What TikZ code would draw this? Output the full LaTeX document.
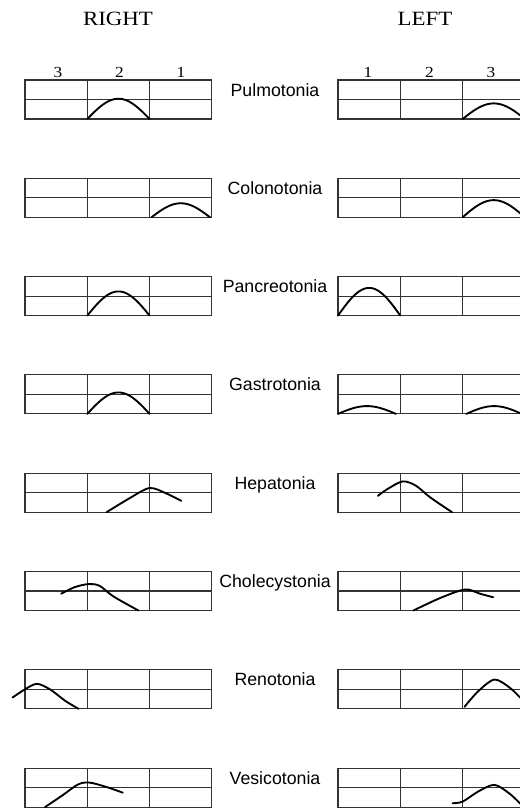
\documentclass[tikz,border=0pt]{standalone}
\usepackage{fontspec}
\newfontfamily\organfont{Liberation Sans}
\newfontfamily\headfont[FakeStretch=1.13]{Liberation Serif}

% one 3x2 panel, in cell units
\newcommand{\tonegrid}{\draw[grid] (0,0) rectangle (3,1) (1,0) -- (1,1) (2,0) -- (2,1) (0,0.5) -- (3,0.5);}
\newcommand{\bump}[3]{\draw[wave, domain=#1:#2, samples=40] plot (\x,{#3*sin(180*(\x-#1)/(#2-#1))});}

\begin{document}
\begin{tikzpicture}[
    x=0.75pt, y=-0.75pt,
    panel/.style={x=46.725pt, y=29.25pt},
    rpanel/.style={shift={(25,119+98.3*#1)}, panel},
    lpanel/.style={shift={(338,119+98.3*#1)}, panel},
    grid/.style={line width=0.8pt, black!80},
    wave/.style={line width=1.4pt, line cap=round, line join=round},
    head/.style={font=\fontsize{15.2}{17}\headfont},
    num/.style={font=\fontsize{11.5}{13}\headfont},
    organ/.style={font=\fontsize{13.3}{15}\organfont, anchor=base}
]
    \useasboundingbox (0,0) rectangle (520,810);
    \clip (0,0) rectangle (520,810);

    \node[head] (right) at (118,19) {RIGHT};
    \node[head] (left) at (425,19) {LEFT};
    \foreach \d [count=\k from 0] in {3,2,1}
        \node[num] (r\d) at ({58+61.5*\k},72) {\d};
    \foreach \d [count=\k from 0] in {1,2,3}
        \node[num] (l\d) at ({368+61.5*\k},72) {\d};

    \foreach \name [count=\i from 0] in {Pulmotonia, Colonotonia, Pancreotonia,
        Gastrotonia, Hepatonia, Cholecystonia, Renotonia, Vesicotonia} {
        \begin{scope}[rpanel=\i] \tonegrid \end{scope}
        \begin{scope}[lpanel=\i] \tonegrid \end{scope}
        \node[organ] (organ\i) at (275,{96+98.3*\i}) {\name};
    }

    % curves, row by row
    \begin{scope}[rpanel=0] \bump{1}{2}{0.52} \end{scope}
    \begin{scope}[lpanel=0] \bump{2}{3}{0.4} \end{scope}
    \begin{scope}[rpanel=1] \bump{2.03}{2.97}{0.36} \end{scope}
    \begin{scope}[lpanel=1] \bump{2}{3}{0.44} \end{scope}
    \begin{scope}[rpanel=2] \bump{1}{2}{0.62} \end{scope}
    \begin{scope}[lpanel=2] \bump{0}{1}{0.71} \end{scope}
    \begin{scope}[rpanel=3] \bump{1}{2}{0.55} \end{scope}
    \begin{scope}[lpanel=3] \bump{0}{0.93}{0.2} \bump{2.06}{2.95}{0.2} \end{scope}
    \begin{scope}[rpanel=4]
        \draw[wave] plot[smooth] coordinates {(1.31,0) (1.68,0.36) (2.0,0.62) (2.27,0.48) (2.51,0.29)};
    \end{scope}
    \begin{scope}[lpanel=4]
        \draw[wave] plot[smooth] coordinates {(0.64,0.42) (0.8,0.6) (1.04,0.79) (1.25,0.68) (1.48,0.38) (1.83,0)};
    \end{scope}
    \begin{scope}[rpanel=5]
        \draw[wave] plot[smooth] coordinates {(0.58,0.43) (0.8,0.6) (1.03,0.68) (1.2,0.63) (1.42,0.36) (1.82,0)};
    \end{scope}
    \begin{scope}[lpanel=5]
        \draw[wave] plot[smooth] coordinates {(1.21,0) (1.64,0.32) (2.04,0.54) (2.28,0.43) (2.49,0.34)};
    \end{scope}
    \begin{scope}[rpanel=6]
        \draw[wave] plot[smooth] coordinates {(-0.2,0.29) (0,0.5) (0.19,0.64) (0.4,0.5) (0.65,0.2) (0.86,0)};
    \end{scope}
    \begin{scope}[lpanel=6]
        \draw[wave] plot[smooth] coordinates {(2.03,0.05) (2.25,0.45) (2.51,0.75) (2.75,0.55) (2.93,0.28) (3.05,0.1)};
    \end{scope}
    \begin{scope}[rpanel=7]
        \draw[wave] plot[smooth] coordinates {(0.32,0) (0.6,0.3) (0.85,0.58) (1.03,0.63) (1.3,0.52) (1.57,0.37)};
    \end{scope}
    \begin{scope}[lpanel=7]
        \draw[wave] plot[smooth] coordinates {(1.84,0.1) (2.0,0.14) (2.25,0.4) (2.51,0.57) (2.75,0.35) (2.95,0.05)};
    \end{scope}
\end{tikzpicture}
\end{document}
